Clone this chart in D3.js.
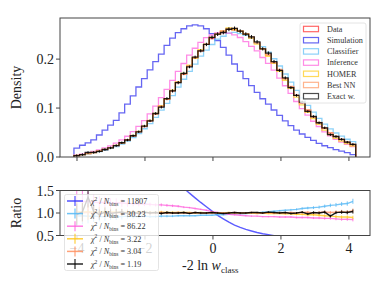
<!DOCTYPE html>
<html><head><meta charset="utf-8">
<script src="https://cdn.jsdelivr.net/npm/d3@7"></script>
<style>body{margin:0;background:#fff}svg{display:block}</style>
</head><body>
<script>
// ---------- DATA ----------
const binLo = -4.09, binHi = 4.2, nBins = 50;
const xTicks = [-4, -2, 0, 2, 4];
const yTicksTop = [0.0, 0.1, 0.2];
const yTicksBot = [0.5, 1.0, 1.5];
const seriesNames = ["Data", "Simulation", "Classifier", "Inference", "HOMER", "Best NN", "Exact w."];
const chi2Values = ["11807", "30.23", "86.22", "3.22", "3.04", "1.19"];

const dataHist = [0.0030,0.0048,0.0068,0.0090,0.0118,0.0150,0.0188,0.0232,0.0285,0.0350,
  0.0430,0.0520,0.0620,0.0740,0.0880,0.1030,0.1180,0.1350,0.1520,0.1690,
  0.1860,0.2020,0.2170,0.2300,0.2420,0.2510,0.2570,0.2610,0.2600,0.2570,
  0.2510,0.2430,0.2330,0.2210,0.2080,0.1930,0.1770,0.1600,0.1430,0.1260,
  0.1100,0.0950,0.0820,0.0700,0.0585,0.0490,0.0415,0.0355,0.0300,0.0250];
const simHist = [0.018,0.024,0.029,0.035,0.045,0.055,0.065,0.075,0.090,0.108,
  0.125,0.143,0.160,0.178,0.195,0.210,0.228,0.243,0.254,0.262,
  0.268,0.270,0.268,0.262,0.252,0.238,0.224,0.208,0.190,0.175,
  0.160,0.146,0.132,0.119,0.108,0.096,0.085,0.074,0.064,0.055,
  0.047,0.040,0.034,0.028,0.023,0.019,0.015,0.012,0.009,0.005];
const classifierHist = [0.0028,0.0045,0.0063,0.0084,0.0109,0.0138,0.0175,0.0213,0.0262,0.0326,
  0.0396,0.0478,0.0577,0.0681,0.0810,0.0958,0.1097,0.1256,0.1429,0.1589,
  0.1748,0.1899,0.2062,0.2185,0.2299,0.2410,0.2467,0.2532,0.2548,0.2519,
  0.2485,0.2430,0.2330,0.2254,0.2142,0.2007,0.1859,0.1696,0.1530,0.1361,
  0.1210,0.1055,0.0918,0.0791,0.0673,0.0573,0.0490,0.0426,0.0363,0.0315];
const inferenceHist = [0.0038,0.0060,0.0086,0.0112,0.0145,0.0186,0.0229,0.0285,0.0348,0.0424,
  0.0520,0.0624,0.0744,0.0881,0.1038,0.1215,0.1381,0.1566,0.1748,0.1910,
  0.2083,0.2222,0.2344,0.2438,0.2493,0.2535,0.2544,0.2532,0.2496,0.2442,
  0.2359,0.2260,0.2167,0.2033,0.1914,0.1776,0.1611,0.1456,0.1301,0.1134,
  0.0990,0.0855,0.0730,0.0623,0.0515,0.0431,0.0361,0.0305,0.0258,0.0213];
const homerHist = [0.0031,0.0049,0.0070,0.0092,0.0120,0.0155,0.0192,0.0237,0.0288,0.0357,
  0.0439,0.0525,0.0632,0.0747,0.0889,0.1051,0.1192,0.1364,0.1535,0.1707,
  0.1879,0.2020,0.2192,0.2300,0.2444,0.2510,0.2570,0.2636,0.2600,0.2570,
  0.2510,0.2430,0.2307,0.2210,0.2059,0.1911,0.1752,0.1568,0.1401,0.1222,
  0.1067,0.0912,0.0787,0.0665,0.0550,0.0456,0.0382,0.0323,0.0273,0.0225];
const bestNNHist = [0.0030,0.0048,0.0069,0.0090,0.0119,0.0150,0.0190,0.0232,0.0288,0.0350,
  0.0434,0.0520,0.0626,0.0740,0.0880,0.1040,0.1180,0.1350,0.1535,0.1690,
  0.1860,0.2040,0.2170,0.2300,0.2444,0.2510,0.2570,0.2610,0.2626,0.2570,
  0.2510,0.2454,0.2330,0.2210,0.2101,0.1930,0.1788,0.1600,0.1444,0.1260,
  0.1111,0.0969,0.0820,0.0707,0.0597,0.0495,0.0423,0.0366,0.0306,0.0263];
const exactHist = [0.0029,0.0049,0.0092,0.0093,0.0114,0.0153,0.0186,0.0234,0.0291,0.0347,
  0.0434,0.0515,0.0632,0.0740,0.0889,0.1020,0.1192,0.1350,0.1520,0.1707,
  0.1841,0.2040,0.2170,0.2300,0.2444,0.2510,0.2544,0.2610,0.2626,0.2570,
  0.2510,0.2454,0.2353,0.2210,0.2122,0.1949,0.1770,0.1616,0.1416,0.1260,
  0.1122,0.0931,0.0828,0.0700,0.0597,0.0456,0.0419,0.0362,0.0303,0.0258];
// relative statistical uncertainty per bin
const relErr = [0.25,0.2,0.17,0.14,0.12,0.1,0.09,0.08,0.07,0.06,
  0.05,0.045,0.04,0.035,0.03,0.028,0.026,0.024,0.022,0.02,
  0.015,0.015,0.015,0.015,0.015,0.015,0.015,0.015,0.015,0.015,
  0.015,0.015,0.015,0.015,0.016,0.017,0.018,0.019,0.02,0.022,
  0.024,0.026,0.028,0.03,0.032,0.034,0.036,0.038,0.04,0.045];

// ---------- STYLE ----------
const W = 389, H = 292;
const histColors = ["#ff3333", "#3333ee", "#66c2f5", "#ff66dd", "#ffcc22", "#ff9966", "#000000"];
const ratioColors = ["#3333ff", "#55b8f5", "#ff66dd", "#ffc61a", "#ff9060", "#000000"];
const FONT = "'Liberation Serif', 'DejaVu Serif', serif";
const AX = "#444";

const svg = d3.select("body").append("svg").attr("width", W).attr("height", H)
  .style("font-family", FONT);

const L = 60, R = 370, topT = 18, topB = 157, botT = 190.5, botB = 235.5;
const x = d3.scaleLinear().domain([-4.5, 4.62]).range([L, R]);
const yTop = d3.scaleLinear().domain([0, 0.284]).range([topB, topT]);
const yBot = d3.scaleLinear().domain([0.5, 1.5]).range([botB, botT]);

const binW = (binHi - binLo) / nBins;
const edges = d3.range(nBins + 1).map(i => binLo + i * binW);
const centers = d3.range(nBins).map(i => binLo + (i + 0.5) * binW);

svg.append("clipPath").attr("id", "cTop").append("rect")
  .attr("x", L).attr("y", topT).attr("width", R - L).attr("height", topB - topT);
svg.append("clipPath").attr("id", "cBot").append("rect")
  .attr("x", L).attr("y", botT).attr("width", R - L).attr("height", botB - botT);

// ---------- TOP PANEL ----------
const line = d3.line().x(d => d[0]).y(d => d[1]);
function stepPts(vals) {
  const pts = [[x(edges[0]), yTop(0)]];
  vals.forEach((v, i) => { pts.push([x(edges[i]), yTop(v)]); pts.push([x(edges[i + 1]), yTop(v)]); });
  pts.push([x(edges[nBins]), yTop(0)]);
  return pts;
}
const hists = [dataHist, simHist, classifierHist, inferenceHist, homerHist, bestNNHist, exactHist];
const gTop = svg.append("g").attr("clip-path", "url(#cTop)");
hists.forEach((h, k) => {
  gTop.append("path").attr("d", line(stepPts(h))).attr("fill", "none")
    .attr("stroke", histColors[k]).attr("stroke-width", 1.3)
    .attr("stroke-opacity", k === 6 ? 0.85 : 0.75);
});
// error bars on exact weights
exactHist.forEach((v, i) => {
  const e = Math.max(v * relErr[i], 0.0025);
  gTop.append("line").attr("x1", x(centers[i])).attr("x2", x(centers[i]))
    .attr("y1", yTop(v - e)).attr("y2", yTop(v + e)).attr("stroke", "#000").attr("stroke-width", 1);
});

svg.append("rect").attr("x", L).attr("y", topT).attr("width", R - L).attr("height", topB - topT)
  .attr("fill", "none").attr("stroke", AX).attr("stroke-width", 1);
yTicksTop.forEach(t => {
  svg.append("line").attr("x1", L - 4).attr("x2", L).attr("y1", yTop(t)).attr("y2", yTop(t)).attr("stroke", AX);
  svg.append("text").attr("x", L - 6).attr("y", yTop(t) + 5).attr("text-anchor", "end")
    .attr("font-size", 14).attr("fill", "#222").text(t.toFixed(1));
});
xTicks.forEach(t => {
  svg.append("line").attr("x1", x(t)).attr("x2", x(t)).attr("y1", topB).attr("y2", topB + 4).attr("stroke", AX);
});
svg.append("text").attr("transform", `translate(21,${(topT + topB) / 2}) rotate(-90)`)
  .attr("text-anchor", "middle").attr("font-size", 14).attr("fill", "#222").text("Density");

// top legend
const lg = svg.append("g");
lg.append("rect").attr("x", 300).attr("y", 23).attr("width", 66).attr("height", 80).attr("rx", 2)
  .attr("fill", "#fff").attr("fill-opacity", 0.8).attr("stroke", "#ddd").attr("stroke-width", 0.8);
seriesNames.forEach((n, k) => {
  const yy = 29 + k * 11.2;
  lg.append("rect").attr("x", 303.5).attr("y", yy - 2.7).attr("width", 15).attr("height", 5.4)
    .attr("fill", "#fff").attr("stroke", histColors[k]).attr("stroke-width", 1.2)
    .attr("stroke-opacity", k === 6 ? 0.7 : 0.75);
  lg.append("text").attr("x", 327).attr("y", yy + 2.8).attr("font-size", 8.2).attr("fill", "#333").text(n);
});

// ---------- BOTTOM PANEL ----------
const ratioHists = [simHist, classifierHist, inferenceHist, homerHist, bestNNHist, exactHist];
const gBot = svg.append("g").attr("clip-path", "url(#cBot)");
ratioHists.forEach((h, k) => {
  const r = h.map((v, i) => v / dataHist[i]);
  gBot.append("path").attr("d", line(r.map((v, i) => [x(centers[i]), yBot(v)])))
    .attr("fill", "none").attr("stroke", ratioColors[k]).attr("stroke-width", 1.4)
    .attr("stroke-opacity", k === 5 ? 0.9 : 0.8);
  if (k > 0) {
    r.forEach((v, i) => {
      const e = v * relErr[i];
      gBot.append("line").attr("x1", x(centers[i])).attr("x2", x(centers[i]))
        .attr("y1", yBot(v - e)).attr("y2", yBot(v + e))
        .attr("stroke", ratioColors[k]).attr("stroke-width", 1).attr("stroke-opacity", 0.8);
    });
  }
});
svg.append("rect").attr("x", L).attr("y", botT).attr("width", R - L).attr("height", botB - botT)
  .attr("fill", "none").attr("stroke", AX).attr("stroke-width", 1);
yTicksBot.forEach(t => {
  svg.append("line").attr("x1", L - 4).attr("x2", L).attr("y1", yBot(t)).attr("y2", yBot(t)).attr("stroke", AX);
  svg.append("text").attr("x", L - 6).attr("y", yBot(t) + 5).attr("text-anchor", "end")
    .attr("font-size", 14).attr("fill", "#222").text(t.toFixed(1));
});
xTicks.forEach(t => {
  svg.append("line").attr("x1", x(t)).attr("x2", x(t)).attr("y1", botB).attr("y2", botB + 4).attr("stroke", AX);
  svg.append("text").attr("x", x(t)).attr("y", botB + 17).attr("text-anchor", "middle")
    .attr("font-size", 14).attr("fill", "#222").text(t < 0 ? "\u2212" + Math.abs(t) : String(t));
});
svg.append("text").attr("transform", `translate(21,${(botT + botB) / 2}) rotate(-90)`)
  .attr("text-anchor", "middle").attr("font-size", 14).attr("fill", "#222").text("Ratio");

const xl = svg.append("text").attr("x", 182).attr("y", 270).attr("font-size", 14).attr("fill", "#222");
xl.append("tspan").text("-2 ln ");
xl.append("tspan").attr("font-style", "italic").text("w");
xl.append("tspan").attr("font-size", 9).attr("dy", 3).text("class");

// bottom legend
const bl = svg.append("g");
bl.append("rect").attr("x", 64.5).attr("y", 194.5).attr("width", 94).attr("height", 76).attr("rx", 2)
  .attr("fill", "#fff").attr("fill-opacity", 0.8).attr("stroke", "#ddd").attr("stroke-width", 0.8);
chi2Values.forEach((c, k) => {
  const yy = 201 + k * 12.6;
  bl.append("line").attr("x1", 67).attr("x2", 83).attr("y1", yy).attr("y2", yy)
    .attr("stroke", ratioColors[k]).attr("stroke-width", 1.5).attr("stroke-opacity", 0.85);
  bl.append("line").attr("x1", 75).attr("x2", 75).attr("y1", yy - 5).attr("y2", yy + 5)
    .attr("stroke", ratioColors[k]).attr("stroke-width", 1.2).attr("stroke-opacity", 0.85);
  const t = bl.append("text").attr("x", 91).attr("y", yy + 3).attr("font-size", 8.2).attr("fill", "#333");
  t.append("tspan").attr("font-style", "italic").text("\u03C7");
  t.append("tspan").attr("font-size", 5.5).attr("dy", -3.5).text("2");
  t.append("tspan").attr("dy", 3.5).text(" / ");
  t.append("tspan").attr("font-style", "italic").text("N");
  t.append("tspan").attr("font-size", 5.5).attr("dy", 1.8).text("bins");
  t.append("tspan").attr("dy", -1.8).text(" = " + c);
});
</script>
</body></html>
